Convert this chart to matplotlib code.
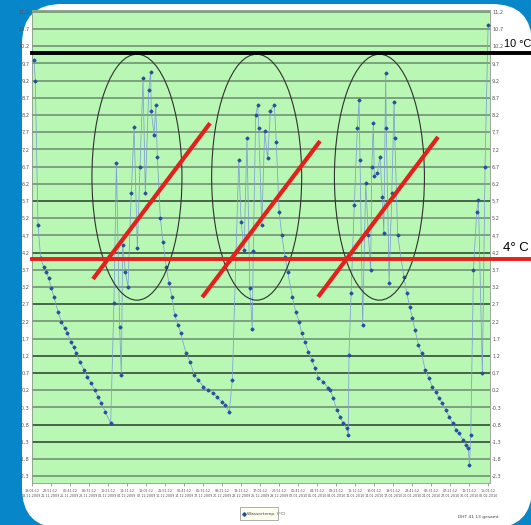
import matplotlib
matplotlib.use('Agg')
import matplotlib.pyplot as plt
from matplotlib.patches import FancyBboxPatch, Ellipse
import numpy as np

# measurement time in tick units (one unit = one x tick) and water temperature
day = [0.12, 0.19, 0.33, 0.47, 0.63, 0.77, 0.89, 1.03, 1.17, 1.38, 1.56, 1.73, 1.87, 2.05,
       2.21, 2.34, 2.52, 2.75, 2.92, 3.13, 3.31, 3.48, 3.66, 3.87, 4.15,
       4.32, 4.45, 4.62, 4.71, 4.78, 4.92, 5.06, 5.23, 5.38, 5.55, 5.69, 5.85, 5.97, 6.15,
       6.25, 6.28, 6.43, 6.52, 6.60, 6.76, 6.90, 7.07, 7.21, 7.37, 7.51, 7.69, 7.83,
       8.11, 8.32, 8.54, 8.75, 9.02, 9.28, 9.54, 9.72, 9.98, 10.16, 10.38,
       10.54, 10.88, 11.00, 11.16, 11.31, 11.46, 11.59, 11.64, 11.77, 11.88, 11.93, 12.09,
       12.24, 12.40, 12.54, 12.75, 12.85, 13.00, 13.14, 13.31, 13.45, 13.69, 13.87, 14.05,
       14.19, 14.36, 14.53, 14.71, 14.89, 15.06, 15.32, 15.59,
       15.68, 15.85, 16.03, 16.20, 16.37, 16.55, 16.64,
       16.67, 16.78, 16.95, 17.11, 17.20, 17.25, 17.39, 17.55, 17.69, 17.81, 17.87, 17.95,
       18.00, 18.16, 18.30, 18.42, 18.50, 18.60, 18.63, 18.78, 18.92, 19.04, 19.08, 19.23,
       19.55, 19.71, 19.86, 20.00, 20.14, 20.32, 20.49, 20.67, 20.88, 21.05, 21.23, 21.40,
       21.58, 21.76, 21.93, 22.12, 22.30, 22.47, 22.65, 22.81, 22.94, 23.00, 23.07,
       23.21, 23.38, 23.47, 23.68, 23.82, 23.98]
temp = [9.80, 9.20, 5.00, 4.03, 3.79, 3.64, 3.45, 3.16, 2.92, 2.48, 2.19, 2.00, 1.87, 1.61,
        1.44, 1.27, 1.03, 0.79, 0.59, 0.40, 0.20, 0.01, -0.18, -0.43, -0.77,
        2.72, 6.80, 2.04, 0.64, 4.42, 3.64, 3.21, 5.92, 7.84, 4.32, 6.70, 9.26, 5.92, 8.92,
        9.46, 8.32, 7.62, 8.49, 6.99, 5.19, 4.52, 3.79, 3.30, 2.92, 2.38, 2.09, 1.85,
        1.27, 1.03, 0.64, 0.49, 0.30, 0.20, 0.11, 0.01, -0.14, -0.23, -0.43,
        0.49, 6.90, 5.10, 4.27, 7.52, 3.16, 1.99, 4.23, 8.20, 8.49, 7.81, 5.00,
        7.72, 6.94, 8.32, 8.49, 7.42, 5.39, 4.71, 4.08, 3.64, 2.92, 2.48, 2.19,
        1.85, 1.61, 1.32, 1.08, 0.83, 0.54, 0.45, 0.25,
        0.20, -0.04, -0.38, -0.57, -0.77, -0.91, -1.10,
        1.22, 3.01, 5.58, 7.81, 8.63, 6.89, 2.09, 6.21, 4.71, 3.69, 6.70, 7.96,
        6.41, 6.50, 6.99, 5.82, 4.76, 9.41, 7.81, 3.30, 5.92, 8.58, 7.52, 4.71,
        3.49, 3.01, 2.63, 2.29, 1.95, 1.51, 1.27, 0.79, 0.54, 0.30, 0.15, -0.04,
        -0.18, -0.38, -0.57, -0.77, -0.96, -1.06, -1.25, -1.40, -1.49, -1.98, -1.10,
        3.69, 5.39, 5.73, 0.69, 6.70, 10.80]

y_ticks = [11.2, 10.7, 10.2, 9.7, 9.2, 8.7, 8.2, 7.7, 7.2, 6.7, 6.2, 5.7, 5.2, 4.7, 4.2,
           3.7, 3.2, 2.7, 2.2, 1.7, 1.2, 0.7, 0.2, -0.3, -0.8, -1.3, -1.8, -2.3]
dark_grid = [5.7, 4.2, 2.7, 1.2, 0.7, -0.8, -1.3]

x_times = ['19:01:12', '22:51:12', '02:41:12', '06:31:12', '10:21:12', '14:11:12', '18:01:12',
           '21:51:12', '01:41:12', '05:31:12', '09:21:12', '13:11:12', '17:01:12', '20:51:12',
           '00:41:12', '04:31:12', '08:21:12', '12:11:12', '16:01:12', '19:51:12', '23:41:12',
           '03:31:12', '07:21:12', '11:11:12', '15:01:12']
x_dates = ['18.11.2009', '21.11.2009', '25.11.2009', '28.11.2009', '01.12.2009', '04.12.2009',
           '07.12.2009', '10.12.2009', '14.12.2009', '17.12.2009', '20.12.2009', '23.12.2009',
           '26.12.2009', '29.12.2009', '02.01.2010', '05.01.2010', '08.01.2010', '11.01.2010',
           '14.01.2010', '17.01.2010', '20.01.2010', '24.01.2010', '27.01.2010', '30.01.2010',
           '02.02.2010']

# marked periods (ellipses) and trend strokes
circle_centers = [5.53, 11.82, 18.27]
strokes = [((3.22, 9.37), (3.43, 7.96)),
           ((8.96, 15.15), (2.90, 7.44)),
           ((15.05, 21.35), (2.91, 7.56))]

fig = plt.figure(figsize=(5.31, 5.25), dpi=100)

# slide background with white rounded panel
bg = fig.add_axes([0, 0, 1, 1])
bg.set_xlim(0, 531)
bg.set_ylim(525, 0)
bg.axis('off')
fig.patch.set_facecolor('#0886CA')
panel = FancyBboxPatch((22, 4), 510, 524, boxstyle='round,pad=0,rounding_size=40',
                       facecolor='white', edgecolor='none')
bg.add_patch(panel)

ax = fig.add_axes([31.7 / 531, 1 - 483 / 525, (490 - 31.7) / 531, (483 - 10) / 525])
ax.set_facecolor('#B8F8B4')
ax.set_xlim(0, 24.08)
ax.set_ylim(-2.5, 11.25)

for v in y_ticks:
    if v in dark_grid:
        ax.axhline(v, color='#3F5A3F', lw=1.3, zorder=1)
    else:
        ax.axhline(v, color='#6F8A6F', lw=1.1, zorder=1)

ax.plot(day, temp, color='#7F9ED3', lw=0.55, zorder=3)
ax.plot(day, temp, ls='none', marker='D', ms=1.5, color='#2A4F9A', zorder=4)

for cx in circle_centers:
    ax.add_patch(Ellipse((cx, 6.39), 4.73, 7.15, fill=False, edgecolor='#303030', lw=0.8, zorder=5))

ax.axhline(10.0, xmin=0, xmax=1.2, color='black', lw=2.8, clip_on=False, zorder=6)
ax.axhline(4.0, xmin=0, xmax=1.2, color='#E4201C', lw=2.8, clip_on=False, zorder=6)
for xs, ys in strokes:
    ax.plot(xs, ys, color='#E4201C', lw=3.0, solid_capstyle='butt', zorder=7)

ax.set_yticks(y_ticks)
ax.set_yticklabels([f'{v:.1f}'.replace('.', ',') for v in y_ticks])
ax.tick_params(axis='y', length=0, labelsize=3.6, labelcolor='#555555', pad=1.5,
               right=True, labelright=True)
ax.set_xticks(range(len(x_times)))
ax.set_xticklabels([a + '\n' + b for a, b in zip(x_times, x_dates)])
ax.tick_params(axis='x', length=2.5, width=0.5, color='#777777', labelsize=2.4,
               labelcolor='#555555', pad=2)
for s in ax.spines.values():
    s.set_color('#8A9A8A')
    s.set_linewidth(0.6)

bg.text(503.5, 49, '10 °C', fontsize=7.8, va='bottom', ha='left', color='black',
        family=['Liberation Sans Narrow', 'Liberation Sans', 'DejaVu Sans'])
bg.text(503, 254, '4° C', fontsize=9.5, va='bottom', ha='left', color='black',
        family=['Liberation Sans Narrow', 'Liberation Sans', 'DejaVu Sans'])

# legend box and file note
bg.add_patch(FancyBboxPatch((240, 507), 38, 13, boxstyle='square,pad=0',
                            facecolor='#FFFFF0', edgecolor='#A0A0A0', lw=0.6))
bg.plot([244], [513.5], marker='D', ms=1.8, color='#2A4F9A')
bg.text(247, 513.5, 'Wassertemp. (°C)', fontsize=3.2, va='center', ha='left', color='#444444')
bg.text(458, 517, 'DHT 41 13 gesamt', fontsize=3.2, va='center', ha='left', color='#444444')

fig.savefig('out.png', dpi=100)
